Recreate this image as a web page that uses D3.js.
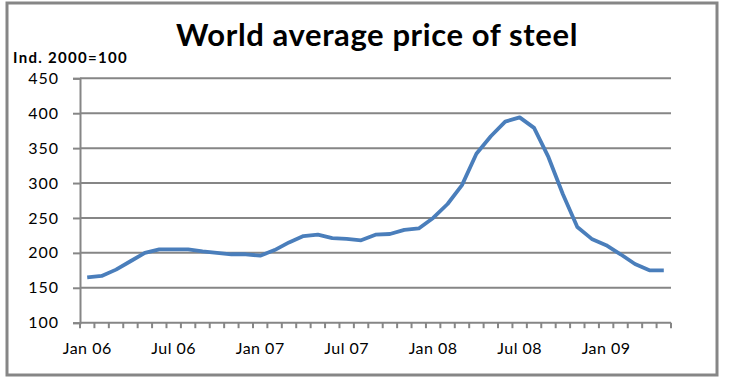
<!DOCTYPE html>
<html>
<head>
<meta charset="utf-8">
<script src="https://cdn.jsdelivr.net/npm/d3@7"></script>
<style>
  body { margin: 0; background: #fff; }
  text { font-family: Lato, "Noto Sans", sans-serif; }
</style>
</head>
<body>
<svg width="730" height="377"></svg>
<script>
var months = ["Jan 06","Feb 06","Mar 06","Apr 06","May 06","Jun 06","Jul 06","Aug 06","Sep 06","Oct 06","Nov 06","Dec 06",
              "Jan 07","Feb 07","Mar 07","Apr 07","May 07","Jun 07","Jul 07","Aug 07","Sep 07","Oct 07","Nov 07","Dec 07",
              "Jan 08","Feb 08","Mar 08","Apr 08","May 08","Jun 08","Jul 08","Aug 08","Sep 08","Oct 08","Nov 08","Dec 08",
              "Jan 09","Feb 09","Mar 09","Apr 09","May 09"];
var steelPrice = [165, 167, 176, 188, 200, 205, 205, 205, 202, 200, 198, 198,
                  196, 204, 215, 224, 226, 221, 220, 218, 226, 227, 233, 235,
                  250, 270, 297, 342, 367, 388, 394, 379, 337, 284, 237, 220,
                  211, 198, 184, 175, 175];
var xTickLabels = ["Jan 06","Jul 06","Jan 07","Jul 07","Jan 08","Jul 08","Jan 09"];
var yTicks = [100, 150, 200, 250, 300, 350, 400, 450];

var svg = d3.select("svg"),
    plotLeft = 80, plotRight = 671, plotTop = 78.3, plotBottom = 322.7;

var x = d3.scaleBand().domain(months).range([plotLeft, plotRight]).padding(0),
    y = d3.scaleLinear().domain([100, 450]).range([plotBottom, plotTop]);

var grey = "#868686";

// frame
svg.append("rect")
    .attr("x", 7).attr("y", 3)
    .attr("width", 710).attr("height", 372)
    .attr("fill", "none")
    .attr("stroke", grey)
    .attr("stroke-width", 3);

// title
svg.append("text")
    .attr("x", 377).attr("y", 45.5)
    .attr("text-anchor", "middle")
    .style("font-size", "31px")
    .style("font-weight", "bold")
    .style("letter-spacing", "0.6px")
    .text("World average price of steel");

svg.append("text")
    .attr("x", 13).attr("y", 62.5)
    .style("font-size", "15px")
    .style("font-weight", "bold")
    .style("letter-spacing", "1.3px")
    .text("Ind. 2000=100");

// gridlines
svg.append("g")
    .selectAll("line")
    .data(yTicks.slice(1))
    .enter().append("line")
    .attr("x1", plotLeft).attr("x2", plotRight)
    .attr("y1", function(d) { return y(d); })
    .attr("y2", function(d) { return y(d); })
    .attr("stroke", grey)
    .attr("stroke-width", 2);

// y axis
var yAxis = svg.append("g")
    .attr("transform", "translate(" + plotLeft + ",0)")
    .call(d3.axisLeft(y).tickValues(yTicks).tickSize(7).tickPadding(14));
yAxis.select(".domain").attr("stroke", grey).attr("stroke-width", 2);
yAxis.selectAll(".tick line").attr("stroke", grey).attr("stroke-width", 2);
yAxis.selectAll("text")
    .style("font-size", "16px")
    .style("letter-spacing", "1px")
    .style("font-family", "Lato, sans-serif")
    .attr("fill", "#000");

// x axis: line, monthly ticks at band edges, labels every 6 months
var xg = svg.append("g");
xg.append("line")
    .attr("x1", plotLeft).attr("x2", plotRight)
    .attr("y1", plotBottom).attr("y2", plotBottom)
    .attr("stroke", grey).attr("stroke-width", 2);
xg.selectAll(".mtick")
    .data(months.concat(["end"]))
    .enter().append("line")
    .attr("class", "mtick")
    .attr("x1", function(d) { return d === "end" ? plotRight : x(d); })
    .attr("x2", function(d) { return d === "end" ? plotRight : x(d); })
    .attr("y1", plotBottom).attr("y2", plotBottom + 5.5)
    .attr("stroke", grey).attr("stroke-width", 2);

var xAxis = svg.append("g")
    .attr("transform", "translate(0," + plotBottom + ")")
    .call(d3.axisBottom(x).tickValues(xTickLabels).tickSize(0).tickPadding(20));
xAxis.select(".domain").remove();
xAxis.selectAll("text")
    .style("font-size", "16px")
    .style("letter-spacing", "0.5px")
    .style("font-family", "Lato, sans-serif")
    .attr("fill", "#000");

// line
var line = d3.line()
    .x(function(d, i) { return x(months[i]) + x.bandwidth() / 2; })
    .y(function(d) { return y(d); });

svg.append("path")
    .datum(steelPrice)
    .attr("d", line)
    .attr("fill", "none")
    .attr("stroke", "#4a7ebb")
    .attr("stroke-width", 3.8)
    .attr("stroke-linejoin", "round");
</script>
</body>
</html>
